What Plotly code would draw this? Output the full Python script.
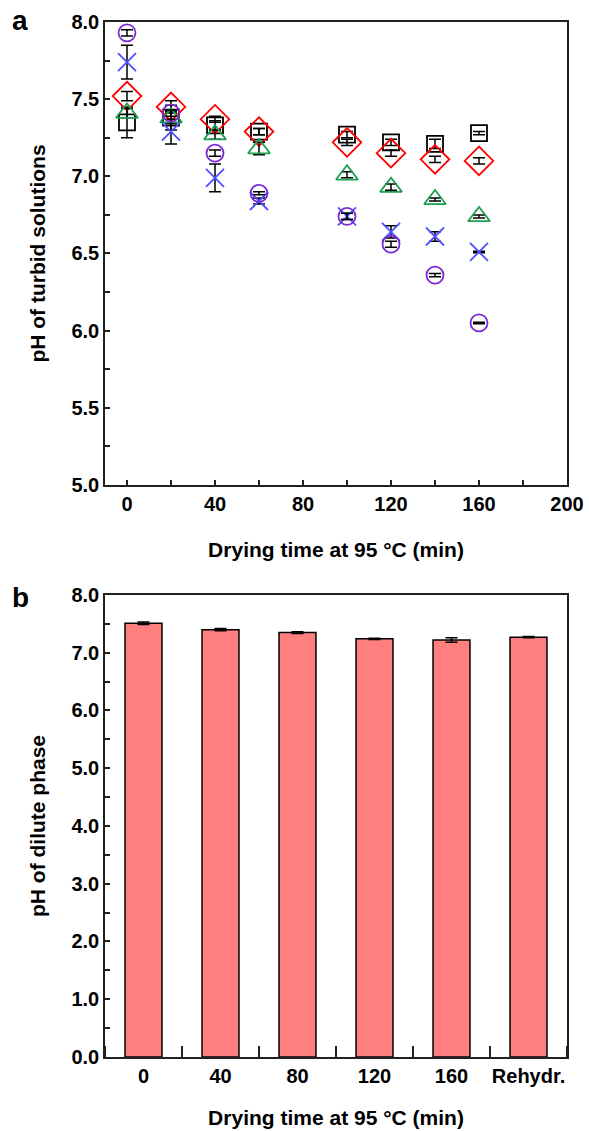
import plotly.graph_objects as go
from plotly.subplots import make_subplots

# ---- Panel a data ----
time_a = [0, 20, 40, 60, 100, 120, 140, 160]
sq_y = [7.35, 7.38, 7.33, 7.29, 7.27, 7.22, 7.21, 7.28]
sq_e = [0.10, 0.08, 0.03, 0.02, 0.02, 0.02, 0.03, 0.01]
di_y = [7.52, 7.45, 7.37, 7.29, 7.22, 7.15, 7.11, 7.10]
di_e = [0.03, 0.04, 0.02, 0.02, 0.02, 0.02, 0.02, 0.02]
tr_y = [7.41, 7.38, 7.27, 7.18, 7.01, 6.93, 6.85, 6.74]
tr_e = [0.03, 0.04, 0.03, 0.04, 0.02, 0.02, 0.01, 0.01]
x_y = [7.74, 7.29, 6.99, 6.84, 6.74, 6.64, 6.61, 6.51]
x_e = [0.11, 0.08, 0.09, 0.02, 0.02, 0.04, 0.03, 0.005]
ci_y = [7.93, 7.41, 7.15, 6.89, 6.74, 6.56, 6.36, 6.05]
ci_e = [0.02, 0.02, 0.02, 0.01, 0.02, 0.02, 0.01, 0.005]

# ---- Panel b data ----
cats_b = ["0", "40", "80", "120", "160", "Rehydr."]
bar_y = [7.51, 7.40, 7.35, 7.24, 7.22, 7.27]
bar_e = [0.02, 0.02, 0.015, 0.01, 0.04, 0.01]

FONT = "Liberation Sans, Arial, sans-serif"

fig = make_subplots(rows=2, cols=1)

series = [
    (sq_y, sq_e, "square-open", "black", 16),
    (di_y, di_e, "diamond-open", "#FF0000", 22),
    (tr_y, tr_e, "triangle-up-open", "#1E9E50", 19),
    (x_y, x_e, "x-thin-open", "#5050FF", 18),
    (ci_y, ci_e, "circle-open", "#7A2BD6", 17),
]
for yv, ev, sym, col, sz in series:
    fig.add_trace(go.Scatter(
        x=time_a, y=yv, mode="markers",
        marker=dict(symbol=sym, size=sz, color=col, line=dict(width=1.8, color=col)),
        error_y=dict(type="data", array=ev, visible=True, color="black", thickness=1.5, width=6),
        showlegend=False), row=1, col=1)

fig.add_trace(go.Bar(
    x=list(range(len(cats_b))), y=bar_y, width=0.48,
    marker=dict(color="#FF7F7F", line=dict(color="black", width=1.5)),
    error_y=dict(type="data", array=bar_e, visible=True, color="black", thickness=1.5, width=6),
    showlegend=False), row=2, col=1)

tickfont = dict(family=FONT, size=20, color="black", weight="bold")
titlefont = dict(family=FONT, size=21, color="black", weight="bold")

common = dict(showline=True, linecolor="#222", linewidth=1.5, mirror=True,
              showgrid=False, zeroline=False, tickfont=tickfont, automargin=False)

fig.update_layout(
    width=589, height=1131,
    margin=dict(l=105, r=22, t=22, b=74),
    plot_bgcolor="white", paper_bgcolor="white",
    xaxis=dict(domain=[0, 1], range=[-10, 200], tickvals=[0, 40, 80, 120, 160, 200],
               ticks="inside", ticklen=5, tickwidth=1.5, tickcolor="#222",
               minor=dict(dtick=20, tick0=0, ticks="inside", ticklen=5, tickwidth=1.5, tickcolor="#222"),
               title=dict(text="Drying time at 95 °C (min)", font=titlefont, standoff=29),
               **common),
    yaxis=dict(domain=[0.5527, 1], range=[5.0, 8.0], tickvals=[5, 5.5, 6, 6.5, 7, 7.5, 8],
               ticktext=["5.0", "5.5", "6.0", "6.5", "7.0", "7.5", "8.0"],
               ticks="inside", ticklen=5, tickwidth=1.5, tickcolor="#222",
               minor=dict(dtick=0.25, tick0=0, ticks="inside", ticklen=5, tickwidth=1.5, tickcolor="#222"),
               title=dict(text="pH of turbid solutions", font=titlefont, standoff=20),
               **common),
    xaxis2=dict(domain=[0, 1], range=[-0.5, 5.5], tickvals=list(range(len(cats_b))), ticktext=cats_b,
                ticks="", minor=dict(dtick=1, tick0=0.5, ticks="inside", ticklen=11, tickwidth=1.5, tickcolor="#222"),
                title=dict(text="Drying time at 95 °C (min)", font=titlefont, standoff=25),
                **common),
    yaxis2=dict(domain=[0, 0.4464], range=[0, 8], tickvals=list(range(9)),
                ticktext=["%.1f" % v for v in range(9)],
                ticks="inside", ticklen=5, tickwidth=1.5, tickcolor="#222",
                minor=dict(dtick=0.5, tick0=0, ticks="inside", ticklen=5, tickwidth=1.5, tickcolor="#222"),
                title=dict(text="pH of dilute phase", font=titlefont, standoff=20),
                **common),
)

# panel labels placed at pixel positions converted to paper coords
W, H = 589, 1131
l, r, t, b = 105, 22, 22, 74
pw, ph = W - l - r, H - t - b
labels = [("a", 20, 20), ("b", 20, 597)]
fig.update_layout(annotations=[
    dict(text=txt, x=(px - l) / pw, y=(H - b - py) / ph, xref="paper", yref="paper",
         xanchor="center", yanchor="middle", showarrow=False,
         font=dict(family=FONT, size=28, color="black", weight="bold"))
    for txt, px, py in labels
])

fig.write_html("out.html")
